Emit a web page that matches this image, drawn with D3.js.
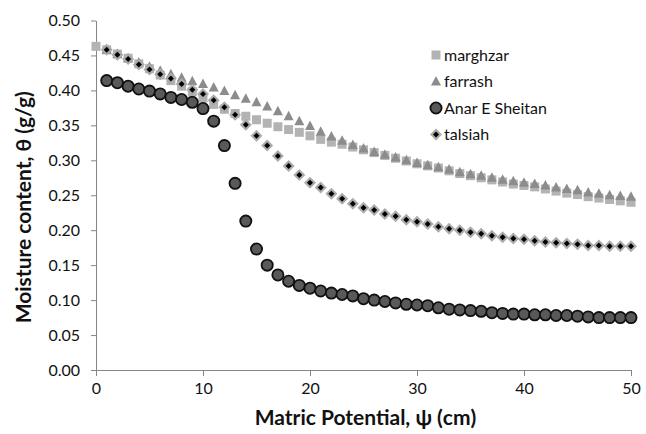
<!DOCTYPE html>
<html>
<head>
<meta charset="utf-8">
<script src="https://cdn.jsdelivr.net/npm/d3@7"></script>
<style>
  html, body { margin: 0; padding: 0; background: #fff; }
  svg { display: block; }
  text { font-family: Lato, "Open Sans", sans-serif; }
</style>
</head>
<body>
<svg id="chart" width="646" height="434"></svg>
<script>
// ---- data ----
const xMarghzar = d3.range(0, 51);
const marghzar = [0.463,0.458,0.452,0.446,0.438,0.431,0.422,0.414,0.406,0.398,0.389,0.380,0.373,0.367,0.363,0.358,0.353,0.348,0.344,0.340,0.335,0.330,0.326,0.323,0.319,0.315,0.311,0.307,0.303,0.299,0.295,0.292,0.289,0.285,0.281,0.278,0.275,0.272,0.269,0.266,0.264,0.262,0.259,0.256,0.253,0.251,0.248,0.246,0.244,0.242,0.240];
const xOthers = d3.range(1, 51);
const farrash = [0.458,0.452,0.446,0.440,0.434,0.428,0.423,0.418,0.413,0.409,0.404,0.399,0.393,0.388,0.383,0.377,0.370,0.363,0.356,0.349,0.341,0.334,0.328,0.322,0.317,0.312,0.308,0.304,0.300,0.296,0.293,0.290,0.287,0.283,0.280,0.278,0.275,0.272,0.270,0.268,0.266,0.264,0.261,0.259,0.257,0.254,0.252,0.250,0.249,0.248];
const anarESheitan = [0.414,0.411,0.406,0.402,0.399,0.395,0.390,0.387,0.383,0.374,0.356,0.321,0.267,0.213,0.173,0.150,0.136,0.127,0.121,0.117,0.113,0.110,0.108,0.106,0.102,0.100,0.098,0.096,0.094,0.093,0.092,0.089,0.087,0.086,0.085,0.084,0.082,0.081,0.080,0.080,0.079,0.079,0.078,0.078,0.077,0.076,0.075,0.075,0.075,0.075];
const talsiah = [0.458,0.451,0.445,0.437,0.430,0.423,0.417,0.409,0.401,0.395,0.386,0.376,0.365,0.351,0.335,0.321,0.306,0.292,0.279,0.268,0.261,0.252,0.245,0.238,0.232,0.229,0.223,0.220,0.215,0.212,0.209,0.205,0.202,0.200,0.197,0.195,0.192,0.190,0.188,0.187,0.185,0.183,0.182,0.181,0.180,0.178,0.178,0.177,0.177,0.177];
const seriesNames = ["marghzar", "farrash", "Anar E Sheitan", "talsiah"];
const xTicks = [0, 10, 20, 30, 40, 50];
const yTicks = [0, 0.05, 0.10, 0.15, 0.20, 0.25, 0.30, 0.35, 0.40, 0.45, 0.50];
const xTitle = "Matric Potential, \u03C8 (cm)";
const yTitle = "Moisture content, \u03B8 (g/g)";

// ---- layout ----
const FONT = 'Lato, "Open Sans", sans-serif';
const svg = d3.select("#chart");
const plot = { left: 96, right: 631, top: 20.5, bottom: 370 };
const x = d3.scaleLinear().domain([0, 50]).range([plot.left, plot.right]);
const y = d3.scaleLinear().domain([0, 0.5]).range([plot.bottom, plot.top]);
const axisColor = "#868686";

// axes
const gx = svg.append("g").attr("transform", `translate(0,${plot.bottom})`)
  .call(d3.axisBottom(x).tickValues(xTicks).tickFormat(d3.format("d")).tickSizeInner(6).tickSizeOuter(0).tickPadding(7));
const gy = svg.append("g").attr("transform", `translate(${plot.left},0)`)
  .call(d3.axisLeft(y).tickValues(yTicks).tickFormat(d3.format(".2f")).tickSizeInner(5).tickSizeOuter(0).tickPadding(11));
[gx, gy].forEach(g => {
  g.selectAll("path.domain").attr("stroke", axisColor).attr("stroke-width", 1);
  g.selectAll(".tick line").attr("stroke", axisColor);
  g.selectAll(".tick text").attr("fill", "#111").style("font-size", "16px").style("font-family", FONT);
});

// axis titles
svg.append("text").attr("x", (plot.left + plot.right) / 2 + 2).attr("y", 425)
  .attr("text-anchor", "middle").attr("font-size", 21).attr("font-weight", "bold").attr("fill", "#111")
  .style("font-family", FONT).text(xTitle);
svg.append("text").attr("transform", `translate(31,${(plot.top + plot.bottom) / 2 + 12}) rotate(-90)`)
  .attr("text-anchor", "middle").attr("font-size", 21).attr("font-weight", "bold").attr("fill", "#111")
  .style("font-family", FONT).text(yTitle);

// series
const series = [
  { name: seriesNames[0], xs: xMarghzar, ys: marghzar, type: "square" },
  { name: seriesNames[1], xs: xOthers, ys: farrash, type: "triangle" },
  { name: seriesNames[2], xs: xOthers, ys: anarESheitan, type: "circle" },
  { name: seriesNames[3], xs: xOthers, ys: talsiah, type: "diamond" }
];

function drawMarker(g, type) {
  if (type === "square") {
    g.append("rect").attr("x", -4.5).attr("y", -4.5).attr("width", 9).attr("height", 9)
      .attr("fill", "#b3b3b3");
  } else if (type === "triangle") {
    g.append("path").attr("d", "M0,-5.5 L5,4 L-5,4 Z").attr("fill", "#8c8c8c");
  } else if (type === "circle") {
    g.append("circle").attr("r", 5.6).attr("fill", "#595959").attr("stroke", "#111").attr("stroke-width", 1.8);
  } else {
    g.append("path").attr("d", "M0,-6 L6,0 L0,6 L-6,0 Z").attr("fill", "#ababab");
    g.append("path").attr("d", "M0,-3 L3,0 L0,3 L-3,0 Z").attr("fill", "#000");
  }
}

series.forEach(s => {
  const g = svg.append("g").attr("class", "series");
  s.ys.forEach((v, i) => {
    const m = g.append("g").attr("transform", `translate(${x(s.xs[i])},${y(v)})`);
    drawMarker(m, s.type);
  });
});

// legend
const legend = svg.append("g").attr("transform", "translate(436,55)");
series.forEach((s, i) => {
  const row = legend.append("g").attr("transform", `translate(0,${i * 26.5})`);
  drawMarker(row, s.type);
  row.append("text").attr("x", 8).attr("y", 5.5).attr("font-size", 16).attr("fill", "#111")
    .style("font-family", FONT).text(s.name);
});
</script>
</body>
</html>
